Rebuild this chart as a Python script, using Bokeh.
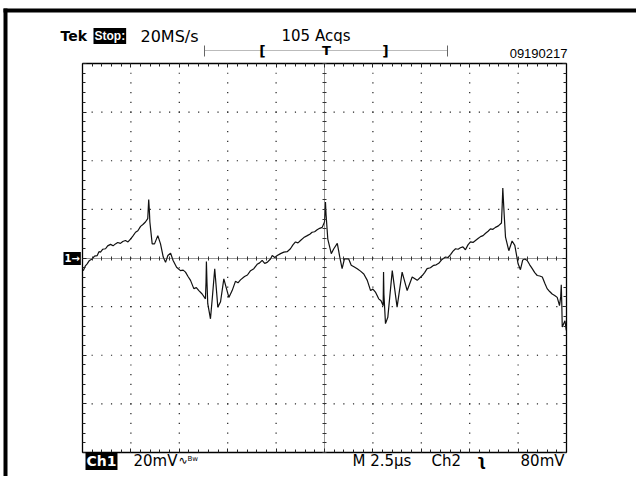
import numpy as np
from bokeh.plotting import figure
from bokeh.models import Range1d, LinearAxis, SingleIntervalTicker, Label
from bokeh.embed import file_html
from bokeh.resources import INLINE

# ---------------- data ----------------
time_us = [0.04, 0.15, 0.24, 0.36, 0.50, 0.62, 0.76, 0.85, 0.93, 1.05,
           1.19, 1.30, 1.45, 1.58, 1.70, 1.82, 1.96, 2.08, 2.22, 2.35,
           2.48, 2.60, 2.74, 2.86, 3.00, 3.12, 3.25, 3.37, 3.42, 3.45,
           3.48, 3.60, 3.72, 3.89, 4.03, 4.17, 4.29, 4.41, 4.55, 4.68,
           4.86, 5.06, 5.20, 5.32, 5.45, 5.58, 5.75, 5.88, 6.01, 6.18,
           6.35, 6.38, 6.40, 6.43, 6.47, 6.61, 6.71, 6.83, 6.99, 7.13,
           7.30, 7.56, 7.73, 7.90, 8.03, 8.16, 8.37, 8.52, 8.68, 8.85,
           9.02, 9.15, 9.28, 9.41, 9.54, 9.71, 9.80, 9.93, 10.06, 10.23,
           10.40, 10.57, 10.74, 10.87, 11.00, 11.13, 11.26, 11.43, 11.61, 11.74,
           11.86, 11.99, 12.12, 12.25, 12.38, 12.50, 12.53, 12.55, 12.58, 12.67,
           12.85, 12.98, 13.16, 13.29, 13.41, 13.53, 13.75, 13.88, 14.02, 14.19,
           14.36, 14.53, 14.71, 14.88, 15.00, 15.13, 15.30, 15.42, 15.53, 15.55,
           15.57, 15.65, 15.77, 16.00, 16.25, 16.51, 16.77, 17.03, 17.29, 17.55,
           17.67, 17.80, 17.97, 18.14, 18.27, 18.40, 18.57, 18.75, 18.88, 19.01,
           19.14, 19.27, 19.40, 19.52, 19.65, 19.78, 19.91, 20.04, 20.17, 20.30,
           20.43, 20.56, 20.69, 20.82, 20.95, 21.07, 21.20, 21.33, 21.48, 21.64,
           21.68, 21.71, 21.74, 21.78, 21.85, 22.02, 22.19, 22.33, 22.50, 22.62,
           22.74, 22.85, 22.97, 23.10, 23.23, 23.36, 23.49, 23.62, 23.75, 23.88,
           24.00, 24.13, 24.26, 24.39, 24.52, 24.64, 24.70, 24.73, 24.76, 24.78,
           24.92, 24.99]
ch1_mv = [-5.2, -3.2, -2.4, -1.0, -0.4, 0.8, 1.0, 2.6, 2.4, 3.6,
          3.8, 5.0, 5.6, 5.0, 5.8, 6.4, 6.0, 6.8, 7.2, 6.6,
          7.8, 9.0, 10.6, 11.2, 13.0, 13.8, 14.8, 16.2, 24.0, 20.0,
          14.8, 5.8, 5.8, 9.2, 5.8, 0.4, -1.8, 1.0, 2.0, -1.0,
          -3.8, -5.2, -5.0, -5.8, -7.6, -9.2, -12.6, -12.2, -13.4, -14.8,
          -16.8, -10.0, -1.4, -10.0, -18.8, -25.0, -16.0, -4.4, -20.2, -18.0,
          -8.6, -16.2, -13.4, -9.6, -10.2, -9.0, -7.6, -7.0, -5.2, -4.4,
          -2.6, -2.0, -1.0, -2.2, -1.8, -0.4, 1.0, 0.2, 1.0, 1.8,
          2.4, 2.6, 3.8, 5.4, 6.6, 6.2, 7.2, 8.4, 9.2, 9.8,
          10.6, 10.8, 11.6, 12.2, 12.6, 14.8, 19.0, 23.0, 18.0, 7.8,
          1.8, 3.8, 6.0, 0.4, -4.4, -0.4, -0.4, -3.0, -3.6, -4.4,
          -5.4, -6.6, -9.2, -13.4, -12.8, -14.0, -16.8, -17.6, -19.6, -5.8,
          -15.0, -27.0, -24.4, -5.2, -20.2, -5.8, -13.4, -7.8, -9.2, -7.2,
          -6.0, -4.4, -4.0, -3.0, -2.8, -2.2, -0.6, 0.4, 0.2, 1.4,
          2.8, 3.8, 3.6, 4.2, 4.6, 3.4, 5.4, 6.6, 6.4, 7.2,
          8.0, 8.8, 9.2, 10.2, 11.0, 12.0, 11.8, 12.6, 13.2, 14.4,
          22.0, 28.8, 24.0, 18.0, 8.6, 3.0, 7.0, 5.2, -2.4, -4.8,
          -0.8, -0.4, -1.0, -2.8, -4.4, -6.0, -7.2, -7.4, -7.8, -10.4,
          -12.6, -13.8, -14.8, -15.4, -16.2, -19.6, -16.0, -11.0, -20.0, -28.4,
          -25.8, -29.8]
assert len(time_us) == len(ch1_mv)

t_per_div = 2.5      # µs / div  ("M 2.5µs")
v_per_div = 20       # mV / div  ("20mV")
n_xdiv = 10
n_ydiv = 8

header_left = ["Tek", "Stop:", "20MS/s"]
header_acqs = "105 Acqs"
header_id = "09190217"
footer = ["Ch1", "20mV", "M 2.5\u00b5s", "Ch2", "80mV"]

# ---------------- layout (page pixels) ----------------
W, H = 636, 476
GL, GT, GR, GB = 82, 63, 566, 452     # graticule box on the page

t_end = t_per_div * n_xdiv
v_half = v_per_div * n_ydiv / 2
kx = (GR - GL) / t_end                 # px per µs
ky = (GB - GT) / (2 * v_half)          # px per mV

p = figure(width=W, height=H, output_backend="svg", toolbar_location=None,
           x_range=Range1d(-GL / kx, t_end + (W - GR) / kx),
           y_range=Range1d(-v_half - (H - GB) / ky, v_half + GT / ky),
           min_border=0, x_axis_location=None, y_axis_location=None)
p.background_fill_color = "white"
p.border_fill_color = "white"
p.outline_line_color = None
p.xgrid.visible = False
p.ygrid.visible = False


def px_t(px):   # page x pixel -> data time
    return (px - GL) / kx


def py_v(py):   # page y pixel -> data mV
    return v_half - (py - GT) / ky


# dotted graticule (one dot every 1/5 division on every division line)
fifth_t = np.arange(1, 5 * n_xdiv) * t_per_div / 5
fifth_v = np.arange(-5 * n_ydiv // 2 + 1, 5 * n_ydiv // 2) * v_per_div / 5
vlines = [k * t_per_div for k in range(1, n_xdiv) if k != n_xdiv // 2]
hlines = [k * v_per_div for k in range(-n_ydiv // 2 + 1, n_ydiv // 2) if k != 0]
dx, dy = [], []
for xv in vlines:
    dx += [xv] * len(fifth_v)
    dy += list(fifth_v)
for yv in hlines:
    dx += list(fifth_t)
    dy += [yv] * len(fifth_t)
p.scatter(dx, dy, marker="square", size=1.2, fill_color="#222222",
          line_color=None)


def hide_labels(ax):
    ax.major_label_text_color = None
    ax.major_label_text_font_size = "1px"
    ax.major_label_standoff = 0
    ax.axis_label = None


# graticule border with inward ticks
edges = [("below", -v_half, (0, t_end), t_per_div),
         ("above", v_half, (0, t_end), t_per_div),
         ("left", 0, (-v_half, v_half), v_per_div),
         ("right", t_end, (-v_half, v_half), v_per_div)]
for side, loc, bnds, step in edges:
    ax = LinearAxis(fixed_location=loc, bounds=bnds,
                    ticker=SingleIntervalTicker(interval=step, num_minor_ticks=5))
    ax.axis_line_color = "black"
    ax.axis_line_width = 1.3
    ax.major_tick_in, ax.major_tick_out = 4, 0
    ax.minor_tick_in, ax.minor_tick_out = 3, 0
    ax.major_tick_line_color = "#222"
    ax.minor_tick_line_color = "#222"
    hide_labels(ax)
    p.add_layout(ax, side)

# centre cross with fine ticks
cx = LinearAxis(fixed_location=0, bounds=(0, t_end),
                ticker=SingleIntervalTicker(interval=t_per_div / 5, num_minor_ticks=0))
cy = LinearAxis(fixed_location=t_end / 2, bounds=(-v_half, v_half),
                ticker=SingleIntervalTicker(interval=v_per_div / 5, num_minor_ticks=0))
for ax in (cx, cy):
    ax.axis_line_color = "#333"
    ax.axis_line_dash = "1 1"
    ax.major_tick_in, ax.major_tick_out = 2, 2
    ax.minor_tick_in, ax.minor_tick_out = 0, 0
    ax.major_tick_line_color = "#333"
    hide_labels(ax)
p.add_layout(cx, "below")
p.add_layout(cy, "left")

# waveform
p.line(time_us, ch1_mv, line_color="#111111", line_width=1.2)

# record-length bar
p.segment(x0=[px_t(204)], y0=[py_v(50)], x1=[px_t(447)], y1=[py_v(50)],
          line_color="#777777", line_width=1, line_dash="1 1")
p.segment(x0=[px_t(204), px_t(447)], y0=[py_v(45), py_v(45)],
          x1=[px_t(204), px_t(447)], y1=[py_v(56), py_v(56)],
          line_color="#666666", line_width=1)

# page border (top and left edges of the screen capture):
# top edge drawn right-to-left, then the left edge top-to-bottom
p.segment(x0=[px_t(W), px_t(5)], y0=[py_v(10), py_v(8)],
          x1=[px_t(3), px_t(5)], y1=[py_v(10), py_v(H)],
          line_color="black", line_width=4)


def lab(text, px, py, size="15px", align="left", color="black", bold=False,
        bg=None, font="DejaVu Sans"):
    kw = dict(x=px_t(px), y=py_v(py), text=text, text_font=font,
              text_font_size=size, text_align=align, text_baseline="middle",
              text_color=color, text_font_style="bold" if bold else "normal")
    if bg is not None:
        kw.update(background_fill_color=bg, background_fill_alpha=1.0, padding=1)
    p.add_layout(Label(**kw))


TOP_Y = 35.5
lab(header_left[0], 60, TOP_Y, size="14px", bold=True)
lab(header_left[1], 93, TOP_Y, size="12px", bold=True, color="white", bg="black",
    font="Liberation Sans")
lab(header_left[2], 140, TOP_Y, size="16px")
lab(header_acqs, 281, TOP_Y, size="15px")
lab(header_id, 567, 53, size="13px", align="right", font="Liberation Sans")
lab("[", 262, 50, size="14px", align="center", bold=True)
lab("T", 326, 50, size="13px", align="center", bold=True)
lab("]", 385, 50, size="14px", align="center", bold=True)

lab("1\u2192", 63, 258, size="10px", bold=True, color="white", bg="black")

BOT_Y = 460.5
lab(footer[0], 85, BOT_Y, size="14px", bold=True, color="white", bg="black")
lab(footer[1], 133, BOT_Y, size="15px")
lab("\u223f", 178, BOT_Y - 1, size="11px")
lab("Bw", 187, BOT_Y - 2, size="7px")
lab(footer[2], 352, BOT_Y, size="15px")
lab(footer[3], 431, BOT_Y, size="15px")
lab("\u0285", 481, BOT_Y, size="15px", align="center", bold=True)
lab(footer[4], 564, BOT_Y, size="15px", align="right")

open("out.html", "w").write(file_html(p, INLINE))
